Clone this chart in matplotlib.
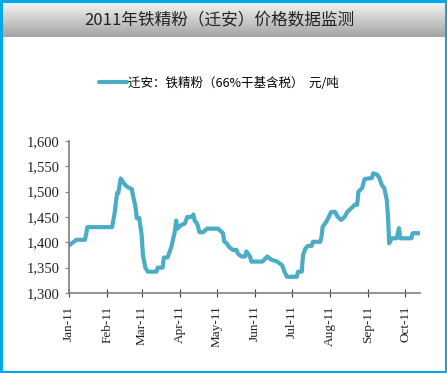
import numpy as np
import pandas as pd
import matplotlib
matplotlib.use("Agg")
import matplotlib.pyplot as plt
import matplotlib.dates as mdates
from matplotlib.patches import Rectangle

plt.rcParams['font.family'] = ['Noto Sans CJK SC', 'DejaVu Sans']

# Qian'an iron ore concentrate price, 2011
dates = [
    "2011-01-01", "2011-01-07", "2011-01-14", "2011-01-16", "2011-02-05", "2011-02-07",
    "2011-02-09", "2011-02-10", "2011-02-12", "2011-02-15", "2011-02-17", "2011-02-21",
    "2011-02-22", "2011-02-24", "2011-02-25", "2011-02-27", "2011-03-01", "2011-03-02",
    "2011-03-04", "2011-03-06", "2011-03-13", "2011-03-14", "2011-03-18", "2011-03-19",
    "2011-03-22", "2011-03-25", "2011-03-28", "2011-03-29", "2011-03-30", "2011-04-02",
    "2011-04-05", "2011-04-07", "2011-04-11", "2011-04-12", "2011-04-13", "2011-04-15",
    "2011-04-17", "2011-04-20", "2011-04-23", "2011-05-02", "2011-05-06", "2011-05-07",
    "2011-05-09", "2011-05-11", "2011-05-14", "2011-05-17", "2011-05-18", "2011-05-21",
    "2011-05-24", "2011-05-25", "2011-05-28", "2011-05-29", "2011-06-07", "2011-06-11",
    "2011-06-14", "2011-06-19", "2011-06-23", "2011-06-25", "2011-06-27", "2011-07-05",
    "2011-07-06", "2011-07-09", "2011-07-10", "2011-07-12", "2011-07-14", "2011-07-17",
    "2011-07-18", "2011-07-24", "2011-07-25", "2011-07-26", "2011-07-29", "2011-08-02",
    "2011-08-05", "2011-08-07", "2011-08-10", "2011-08-13", "2011-08-15", "2011-08-18",
    "2011-08-21", "2011-08-23", "2011-08-24", "2011-08-27", "2011-08-29", "2011-09-04",
    "2011-09-05", "2011-09-08", "2011-09-10", "2011-09-12", "2011-09-14", "2011-09-16",
    "2011-09-17", "2011-09-18", "2011-09-20", "2011-09-24", "2011-09-26", "2011-09-27",
    "2011-10-06", "2011-10-07", "2011-10-13",
]
prices = [
    1394, 1405, 1405, 1430, 1430, 1457,
    1497, 1497, 1526, 1515, 1510, 1505,
    1492, 1470, 1448, 1448, 1415, 1375,
    1350, 1342, 1342, 1350, 1350, 1370,
    1370, 1390, 1422, 1443, 1427, 1434,
    1437, 1450, 1450, 1455, 1443, 1437,
    1420, 1420, 1427, 1427, 1418, 1402,
    1398, 1391, 1385, 1385, 1378, 1372,
    1372, 1382, 1372, 1362, 1362, 1372,
    1366, 1362, 1355, 1342, 1332, 1332,
    1342, 1342, 1375, 1388, 1393, 1393,
    1401, 1401, 1411, 1431, 1441, 1460,
    1460, 1451, 1444, 1451, 1460, 1467,
    1474, 1474, 1500, 1507, 1525, 1527,
    1536, 1534, 1527, 1513, 1507, 1484,
    1451, 1398, 1408, 1408, 1428, 1408,
    1408, 1418, 1418,
]
series_label = "迁安：铁精粉（66%干基含税）  元/吨"
title = "2011年铁精粉（迁安）价格数据监测"

x = pd.to_datetime(dates)

fig = plt.figure(figsize=(4.47, 3.73), dpi=100)
fig.patch.set_facecolor("white")

# gray gradient title band
band = fig.add_axes([0, 1 - 37 / 373, 1, 37 / 373])
grad = np.linspace(0.98, 0.64, 64).reshape(-1, 1)
band.imshow(np.dstack([grad, grad, grad]), aspect="auto", extent=[0, 1, 0, 1])
band.set_xlim(0, 1)
band.set_ylim(0, 1)
band.axis("off")
band.text(0.49, 0.45, title, ha="center", va="center", fontsize=12, color="#222222")

ax = fig.add_axes([69 / 447, 80 / 373, 351 / 447, 152 / 373])
ax.plot(x, prices, color="#4BACC6", linewidth=3.0, solid_joinstyle="round",
        solid_capstyle="round", label=series_label)

ax.set_ylim(1300, 1600)
ax.set_yticks(np.arange(1300, 1601, 50))
ax.yaxis.set_major_formatter(matplotlib.ticker.FuncFormatter(lambda v, p: f"{int(v):,}"))
ax.set_xlim(pd.Timestamp("2011-01-01"), pd.Timestamp("2011-10-13"))
ax.xaxis.set_major_locator(mdates.MonthLocator())
ax.xaxis.set_major_formatter(mdates.DateFormatter("%b-%y"))

for s in ["top", "right"]:
    ax.spines[s].set_visible(False)
for s in ["left", "bottom"]:
    ax.spines[s].set_color("#808080")
    ax.spines[s].set_linewidth(1.2)
ax.tick_params(axis="y", direction="out", length=3, color="#808080", labelsize=10.5, pad=4)
ax.tick_params(axis="x", direction="inout", length=6, color="#404040", labelsize=9.5,
               labelrotation=90, pad=6)
for lab in ax.get_xticklabels() + ax.get_yticklabels():
    lab.set_fontfamily("Liberation Serif")
    lab.set_color("#222222")

leg = fig.legend(loc="center", bbox_to_anchor=(0.49, 1 - 83 / 373), frameon=False,
                 fontsize=9, handlelength=2.2, handletextpad=0.1)

# cyan frame around the picture
fig.patches.append(Rectangle((0.002, 0.003), 0.995, 0.994, transform=fig.transFigure,
                             fill=False, edgecolor="#00A8E8", linewidth=2.2))

fig.savefig("out.png", dpi=100)
